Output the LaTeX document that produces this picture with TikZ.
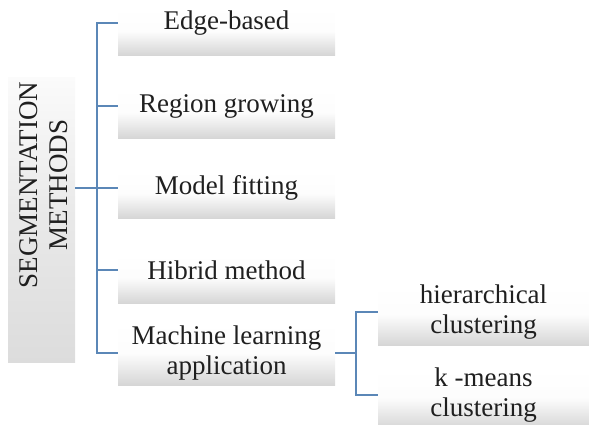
\documentclass[tikz,border=0pt]{standalone}
\usepackage{fontspec}
\setmainfont{Liberation Serif}
\newfontfamily\lblfont{Liberation Serif}
\definecolor{linkblue}{HTML}{5B87B7}
\definecolor{boxgray}{HTML}{D6D6D6}
\begin{document}
\begin{tikzpicture}[x=1pt,y=-1pt,
  boxshade/.style={draw=none, top color=white, bottom color=boxgray, middle color=white!94!boxgray, inner sep=0pt},
  lbl/.style={font=\lblfont\fontsize{27}{30}\selectfont, text=black!88, align=center, inner sep=0pt},
  link/.style={draw=linkblue, line width=1.2pt}]
\useasboundingbox (0,0) rectangle (589,424);
% boxes
\node[boxshade, minimum width=67, minimum height=285, top color=white!90!boxgray, bottom color=boxgray!85, middle color=boxgray!55] (b0) at (41.5,219.5) {};
\node[boxshade, minimum width=217, minimum height=47] (b1) at (226.5,31.5) {};
\node[boxshade, minimum width=217, minimum height=50] (b2) at (226.5,113) {};
\node[boxshade, minimum width=217, minimum height=48] (b3) at (226.5,194) {};
\node[boxshade, minimum width=217, minimum height=50] (b4) at (226.5,278) {};
\node[boxshade, minimum width=217, minimum height=63] (b5) at (226.5,353.5) {};
\node[boxshade, minimum width=211, minimum height=60] (b6) at (483.5,315) {};
\node[boxshade, minimum width=211, minimum height=60] (b7) at (483.5,398) {};
% labels
\node[lbl, rotate=90] (t0) at (44,185) {SEGMENTATION\\METHODS};
\node[lbl] (t1) at (226.5,23) {Edge-based};
\node[lbl] (t2) at (226.5,106) {Region growing};
\node[lbl] (t3) at (226.5,188) {Model fitting};
\node[lbl] (t4) at (226.5,270) {Hibrid method};
\node[lbl] (t5) at (226.5,353) {Machine learning\\application};
\node[lbl] (t6) at (483.5,312) {hierarchical\\clustering};
\node[lbl] (t7) at (483.5,395) {k -means\\clustering};
% connectors
\coordinate (s) at (97,188);
\coordinate (r) at (356,353);
\draw[link] (b0.east |- s) -- (s);
\draw[link] (b1.west |- t1) -- (s |- t1) -- (s |- t5) -- (b5.west |- t5);
\draw[link] (s |- t2) -- (b2.west |- t2);
\draw[link] (s |- t3) -- (b3.west |- t3);
\draw[link] (s |- t4) -- (b4.west |- t4);
\draw[link] (b5.east |- r) -- (r);
\draw[link] (b6.west |- t6) -- (r |- t6) -- (r |- t7) -- (b7.west |- t7);
\end{tikzpicture}
\end{document}
